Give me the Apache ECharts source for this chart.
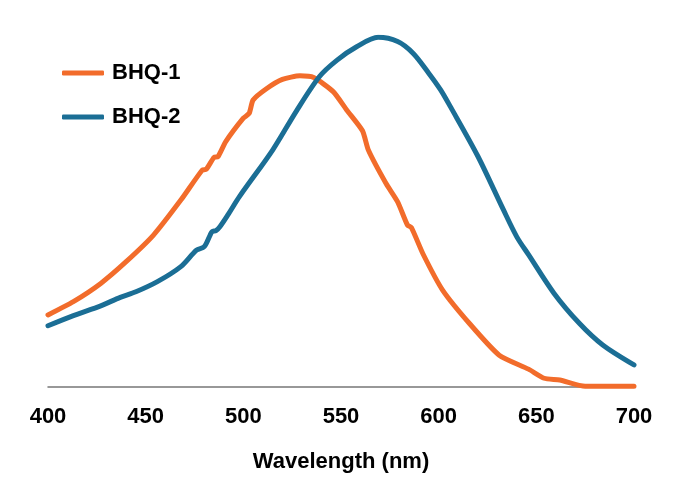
<!DOCTYPE html>
<html>
<head>
<meta charset="utf-8">
<script src="https://cdn.jsdelivr.net/npm/echarts@6/dist/echarts.min.js"></script>
<style>
  html, body { margin: 0; padding: 0; background: #fff; }
  #chart { width: 673px; height: 498px; }
</style>
</head>
<body>
<div id="chart"></div>
<script>
// 吸收光谱 (normalized absorbance vs wavelength)
var xTicks = [400, 450, 500, 550, 600, 650, 700];

var bhq1Wl  = [400, 413, 427, 440, 454, 468, 479, 481, 485, 487, 491, 500, 503, 505, 512, 520, 529, 536, 546, 553, 561, 564, 573, 579, 584, 586, 592, 602, 616, 631, 646, 654, 662, 675, 700];
var bhq1Abs = [0.206, 0.244, 0.296, 0.358, 0.434, 0.534, 0.620, 0.622, 0.656, 0.658, 0.701, 0.768, 0.782, 0.820, 0.853, 0.879, 0.889, 0.884, 0.844, 0.791, 0.732, 0.677, 0.582, 0.529, 0.463, 0.456, 0.380, 0.277, 0.180, 0.091, 0.051, 0.025, 0.020, 0.002, 0.002];

var bhq2Wl  = [400, 413, 427, 437, 445, 456, 468, 476, 480, 483, 484, 486, 488, 492, 498, 515, 527, 539, 548, 558, 569, 579, 587, 595, 601, 606, 620, 633, 640, 646, 659, 672, 684, 700];
var bhq2Abs = [0.175, 0.204, 0.232, 0.256, 0.272, 0.301, 0.344, 0.391, 0.401, 0.434, 0.444, 0.447, 0.458, 0.491, 0.544, 0.677, 0.787, 0.887, 0.934, 0.972, 0.999, 0.987, 0.953, 0.896, 0.849, 0.801, 0.660, 0.508, 0.429, 0.378, 0.268, 0.182, 0.120, 0.063];

function pairs(xs, ys) {
  var out = [];
  for (var i = 0; i < xs.length; i++) out.push([xs[i], ys[i]]);
  return out;
}

function initSpectrum() {
  var chart = echarts.init(document.getElementById('chart'));
  var font = '"Liberation Sans", Arial, Helvetica, sans-serif';
  var option = {
    animation: false,
    grid: { left: 48, right: 39, top: 37, bottom: 111, containLabel: false },
    legend: {
      orient: 'vertical',
      left: 57,
      top: 57,
      icon: 'roundRect',
      itemWidth: 42,
      itemHeight: 5,
      itemGap: 22,
      data: ['BHQ-1', 'BHQ-2'],
      textStyle: { fontFamily: font, fontWeight: 'bold', fontSize: 22, color: '#000', padding: [0, 0, 0, 3] }
    },
    xAxis: {
      type: 'value',
      min: 400,
      max: 700,
      interval: 50,
      name: 'Wavelength (nm)',
      nameLocation: 'middle',
      nameGap: 64,
      nameTextStyle: { fontFamily: font, fontWeight: 'bold', fontSize: 22, color: '#000' },
      axisLine: { show: true, lineStyle: { color: '#777', width: 1.5 } },
      axisTick: { show: false },
      splitLine: { show: false },
      axisLabel: {
        margin: 19,
        fontFamily: font,
        fontWeight: 'bold',
        fontSize: 22,
        color: '#000',
        customValues: xTicks
      }
    },
    yAxis: {
      type: 'value',
      min: 0,
      max: 1,
      show: false
    },
    series: [
      {
        name: 'BHQ-1',
        type: 'line',
        symbol: 'none',
        smooth: 0.2,
        color: '#F26C2B',
        lineStyle: { width: 5, color: '#F26C2B', cap: 'round', join: 'round' },
        data: pairs(bhq1Wl, bhq1Abs)
      },
      {
        name: 'BHQ-2',
        type: 'line',
        symbol: 'none',
        smooth: 0.3,
        color: '#1B6E95',
        lineStyle: { width: 5, color: '#1B6E95', cap: 'round', join: 'round' },
        data: pairs(bhq2Wl, bhq2Abs)
      }
    ]
  };
  chart.setOption(option);
}

initSpectrum();
</script>
</body>
</html>
